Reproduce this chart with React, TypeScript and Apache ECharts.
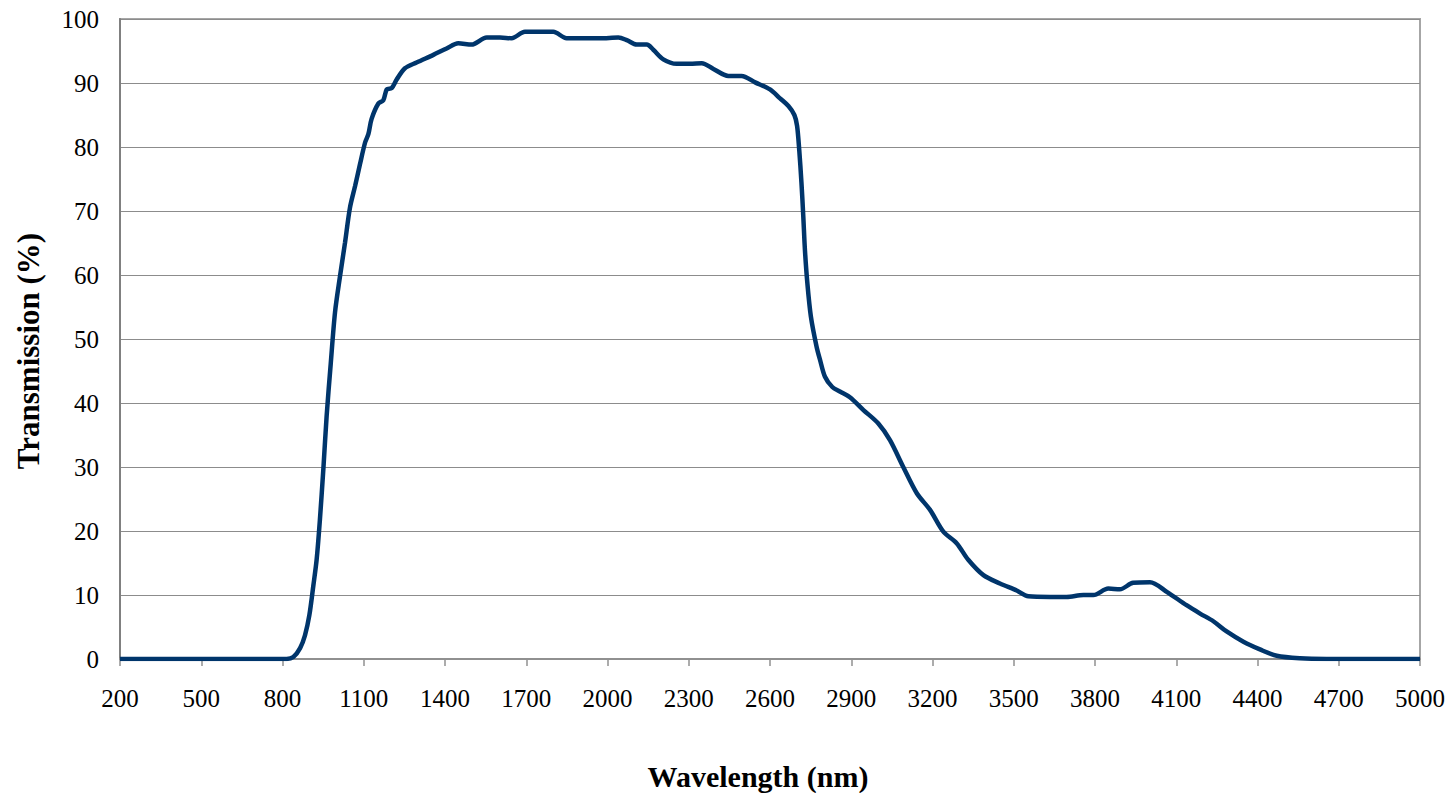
import React, { useEffect, useRef } from "react";
import * as echarts from "echarts";

const wavelengths = [
  200, 400, 600, 800, 815, 840, 865, 883, 899, 914, 926, 938, 951, 963, 978, 994,
  1012, 1031, 1049, 1068, 1086, 1105, 1117, 1129, 1154, 1172, 1185, 1203, 1221,
  1252, 1295, 1357, 1406, 1449, 1498, 1554, 1603, 1646, 1695, 1751, 1800, 1849,
  1911, 1972, 2040, 2071, 2108, 2145, 2169, 2206, 2255, 2305, 2348, 2391, 2446,
  2495, 2545, 2600, 2637, 2668, 2690, 2700, 2708, 2716, 2723, 2729, 2738, 2751,
  2772, 2785, 2803, 2830, 2858, 2895, 2945, 3000, 3043, 3092, 3142, 3191, 3240,
  3289, 3332, 3388, 3449, 3511, 3554, 3634, 3695, 3757, 3794, 3849, 3892, 3941,
  4003, 4065, 4138, 4188, 4237, 4286, 4348, 4409, 4471, 4557, 4655, 4800, 5000,
];

const transmission = [
  0, 0, 0, 0, 0, 0.3, 1.7, 3.7, 6.8, 11.5, 15.5, 21.7, 29.8, 38, 46.1, 54.2,
  59.7, 65.1, 70.5, 73.9, 77.3, 80.7, 82, 84.4, 86.8, 87.3, 89, 89.2, 90.5,
  92.3, 93.2, 94.4, 95.4, 96.2, 96.0, 97.1, 97.1, 97.0, 98.0, 98.0, 98.0, 97.0,
  97.0, 97.0, 97.1, 96.7, 96.0, 96.0, 95.2, 93.7, 93.0, 93.0, 93.1, 92.2, 91.1,
  91.1, 90.1, 89.0, 87.6, 86.4, 85.0, 83.3, 79.5, 74.5, 69.1, 63.9, 58.7, 53.5,
  48.8, 46.7, 44.1, 42.5, 41.8, 40.9, 38.9, 36.8, 34.2, 30.0, 25.9, 23.3, 19.9,
  18.1, 15.5, 13.1, 11.8, 10.7, 9.8, 9.7, 9.7, 10.0, 10.0, 11.0, 10.9, 11.9,
  12.0, 10.5, 8.4, 7.1, 5.9, 4.3, 2.7, 1.5, 0.5, 0.1, 0, 0, 0,
];

const xStart = 200;
const xEnd = 5000;
const xStep = 300;
const yTicks = [0, 10, 20, 30, 40, 50, 60, 70, 80, 90, 100];
const xTitle = "Wavelength (nm)";
const yTitle = "Transmission (%)";

const FONT = "'Liberation Serif', 'Times New Roman', serif";

export default function App() {
  const ref = useRef<HTMLDivElement>(null);

  useEffect(() => {
    document.body.style.margin = "0";
    if (!ref.current) return;
    const chart = echarts.init(ref.current, undefined, { renderer: "svg" });
    const data = wavelengths.map((w, i) => [w - xStart, transmission[i]]);
    chart.setOption({
      animation: false,
      backgroundColor: "#ffffff",
      grid: {
        left: 120,
        right: 34,
        top: 19,
        bottom: 134,
        containLabel: false,
        outerBoundsMode: "none",
        show: true,
        borderColor: "#a6a6a6",
        borderWidth: 2,
        backgroundColor: "transparent",
      },
      graphic: [
        {
          type: "text",
          x: 758,
          y: 776,
          style: {
            text: xTitle,
            fontFamily: FONT,
            fontWeight: "bold",
            fontSize: 30,
            fill: "#000",
            textAlign: "center",
            textVerticalAlign: "middle",
          },
        },
        {
          type: "text",
          x: 28,
          y: 351,
          rotation: Math.PI / 2,
          style: {
            text: yTitle,
            fontFamily: FONT,
            fontWeight: "bold",
            fontSize: 31,
            fill: "#000",
            textAlign: "center",
            textVerticalAlign: "middle",
          },
        },
      ],
      xAxis: {
        type: "value",
        min: 0,
        max: xEnd - xStart,
        interval: xStep,
        axisLine: { show: true, lineStyle: { color: "#909090", width: 2 } },
        axisTick: { show: true, inside: false, length: 7, lineStyle: { color: "#909090", width: 1.5 } },
        splitLine: { show: false },
        axisLabel: {
          fontFamily: FONT,
          fontSize: 25,
          color: "#000",
          margin: 27,
          formatter: (v: number) => String(v + xStart),
        },
      },
      yAxis: {
        type: "value",
        min: yTicks[0],
        max: yTicks[yTicks.length - 1],
        interval: 10,
        axisLine: { show: true, lineStyle: { color: "#808080", width: 2 } },
        axisTick: { show: false },
        splitLine: { show: true, lineStyle: { color: "#8c8c8c", width: 1 } },
        axisLabel: {
          fontFamily: FONT,
          fontSize: 25,
          color: "#000",
          margin: 21,
        },
      },
      series: [
        {
          type: "line",
          data,
          smooth: 0.3,
          showSymbol: false,
          lineStyle: { color: "#00356b", width: 4.5 },
          z: 5,
        },
      ],
    });
    return () => chart.dispose();
  }, []);

  return <div ref={ref} style={{ width: 1454, height: 793 }} />;
}
